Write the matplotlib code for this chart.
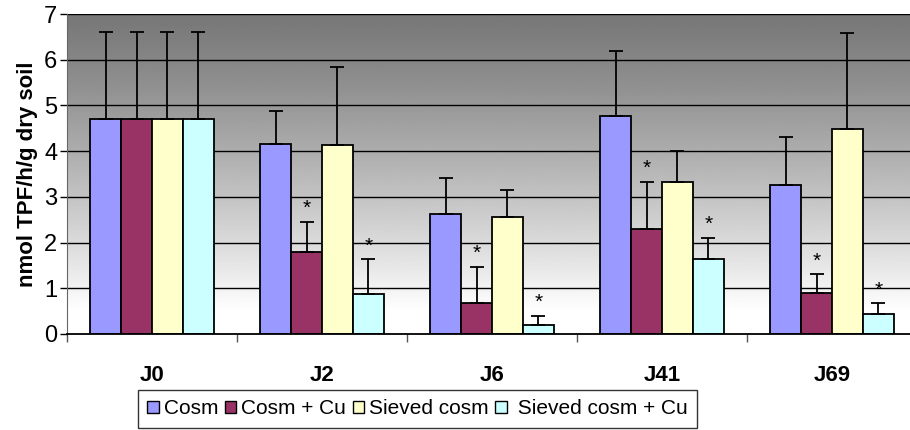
import numpy as np
import matplotlib.pyplot as plt
from matplotlib.patches import Patch

plt.rcParams['font.family'] = ['Liberation Sans', 'DejaVu Sans']

days = ['J0', 'J2', 'J6', 'J41', 'J69']
series = ['Cosm', 'Cosm + Cu', 'Sieved cosm', ' Sieved cosm + Cu']
colors = ['#9999ff', '#993366', '#ffffcc', '#ccffff']

cosm = [4.70, 4.16, 2.62, 4.77, 3.26]
cosm_cu = [4.70, 1.79, 0.67, 2.30, 0.90]
sieved = [4.70, 4.14, 2.55, 3.33, 4.49]
sieved_cu = [4.70, 0.88, 0.20, 1.63, 0.44]

cosm_err = [1.90, 0.72, 0.79, 1.42, 1.04]
cosm_cu_err = [1.90, 0.67, 0.80, 1.03, 0.41]
sieved_err = [1.90, 1.70, 0.59, 0.67, 2.10]
sieved_cu_err = [1.90, 0.75, 0.20, 0.48, 0.23]

# significance stars: (series index, day index)
stars = [(1, 1), (3, 1), (1, 2), (3, 2), (1, 3), (3, 3), (1, 4), (3, 4)]

values = [cosm, cosm_cu, sieved, sieved_cu]
errors = [cosm_err, cosm_cu_err, sieved_err, sieved_cu_err]

fig = plt.figure(figsize=(9.1, 4.3), dpi=100)
ax = fig.add_axes([67 / 910, 1 - 334 / 430, 850 / 910, 320 / 430])

# gray gradient background
grad = np.linspace(0, 1, 256).reshape(-1, 1)
shade = 0.47 + 0.53 * np.clip((1 - grad) / 0.93, 0, 1) ** 1.2
ax.imshow(shade, cmap='gray', vmin=0, vmax=1, aspect='auto',
          extent=[-0.5, 4.5, 0, 7], origin='lower', zorder=0)

for y in range(1, 8):
    ax.axhline(y, color='black', lw=1, zorder=1)

x = np.arange(len(days))
w = 0.182
offsets = (np.arange(4) - 1.5) * w
for i in range(4):
    ax.bar(x + offsets[i], values[i], w, color=colors[i], edgecolor='black',
           lw=1.3, zorder=2)
    ax.errorbar(x + offsets[i], values[i], yerr=[np.zeros(5), errors[i]],
                fmt='none', ecolor='black', elinewidth=1.3, capsize=5,
                capthick=1.3, zorder=3)

for s, d in stars:
    top = values[s][d] + errors[s][d]
    ax.text(d + offsets[s], top + 0.08, '*', ha='center', va='bottom',
            fontsize=15, zorder=4)

ax.set_xlim(-0.5, 4.5)
ax.set_ylim(0, 7)
ax.set_yticks(range(8))
ax.tick_params(axis='y', labelsize=17, length=5, direction='out', width=1,
               pad=2)
ax.set_xticks(np.arange(-0.5, 4.6, 1))
ax.set_xticklabels([])
ax.tick_params(axis='x', length=6, direction='out', width=1, color='#555555')
ax.set_xticks(x, minor=True)
ax.set_xticklabels(days, minor=True, fontsize=16, fontweight='bold')
ax.tick_params(axis='x', which='minor', length=0, pad=22)

ax.set_ylabel('nmol TPF/h/g dry soil', fontsize=16, fontweight='bold',
              labelpad=4)
for side in ['top', 'right']:
    ax.spines[side].set_visible(False)
ax.spines['left'].set_color('#666666')
ax.spines['bottom'].set_color('black')
ax.spines['bottom'].set_linewidth(1.3)

handles = [Patch(facecolor=c, edgecolor='black', lw=1) for c in colors]
leg = fig.legend(handles, series, loc='upper left',
                 bbox_to_anchor=(138 / 910, 1 - 390 / 430), ncol=4,
                 fontsize=15, frameon=True, fancybox=False, handlelength=0.55,
                 handleheight=0.55, handletextpad=0.25, columnspacing=0.3,
                 borderpad=0.45, borderaxespad=0)
leg.get_frame().set_edgecolor('black')
leg.get_frame().set_linewidth(1)

fig.savefig('out.png', dpi=100)
